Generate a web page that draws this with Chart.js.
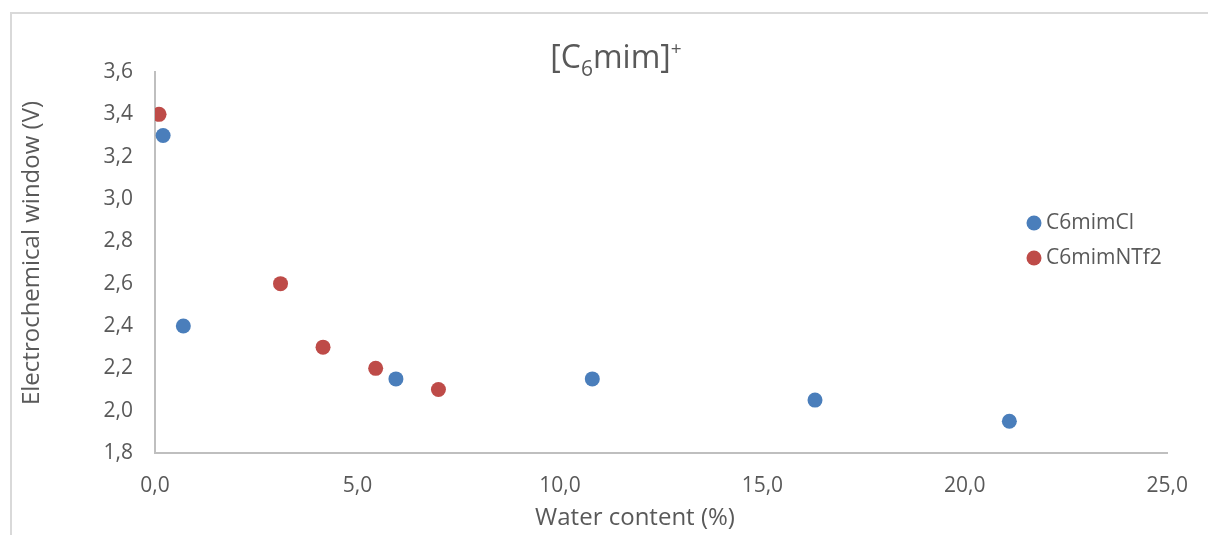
<!DOCTYPE html>
<html>
<head>
<meta charset="utf-8">
<script src="https://cdn.jsdelivr.net/npm/chart.js@4/dist/chart.umd.min.js"></script>
<style>
  html, body { margin: 0; padding: 0; background: #fff; }
  #wrap { position: relative; width: 1208px; height: 535px; overflow: hidden; }
  #frame { position: absolute; left: 10px; top: 12px; width: 1300px; height: 600px;
           border-top: 2px solid #d9d9d9; border-left: 2px solid #d9d9d9; box-sizing: border-box; }
  canvas { position: absolute; left: 0; top: 0; }
</style>
</head>
<body>
<div id="wrap">
  <div id="frame"></div>
  <canvas id="chart" width="1208" height="535"></canvas>
</div>
<script>
// Water content (%) vs electrochemical window (V)
const clWater   = [0.2, 0.7, 5.95, 10.8, 16.3, 21.1];
const clWindow  = [3.3, 2.4, 2.15, 2.15, 2.05, 1.95];
const ntfWater  = [0.1, 3.1, 4.15, 5.45, 7.0];
const ntfWindow = [3.4, 2.6, 2.3, 2.2, 2.1];

const seriesNames = ['C6mimCl', 'C6mimNTf2'];
const xTickValues = [0, 5, 10, 15, 20, 25];
const yTickValues = [1.8, 2.0, 2.2, 2.4, 2.6, 2.8, 3.0, 3.2, 3.4, 3.6];
const xAxisTitle = 'Water content (%)';
const yAxisTitle = 'Electrochemical window (V)';

const BLUE = '#4a7ebb';
const RED = '#be4b48';
const TEXT = '#595959';
const FONT = '"Open Sans", "DejaVu Sans", sans-serif';

const fmt = v => Number(v).toFixed(1).replace('.', ',');
const toPoints = (xs, ys) => xs.map((x, i) => ({ x, y: ys[i] }));

// Title with subscript 6 and superscript +
const titlePlugin = {
  id: 'richTitle',
  afterDraw(chart) {
    const ctx = chart.ctx;
    const parts = [
      { t: '[C', size: 32, dy: 0 },
      { t: '6', size: 21, dy: 8 },
      { t: 'mim]', size: 32, dy: 0 },
      { t: '+', size: 19, dy: -13 }
    ];
    ctx.save();
    ctx.fillStyle = TEXT;
    ctx.textBaseline = 'alphabetic';
    let total = 0;
    parts.forEach(p => { ctx.font = p.size + 'px ' + FONT; p.w = ctx.measureText(p.t).width; total += p.w; });
    let x = 616 - total / 2;
    const base = 68;
    parts.forEach(p => {
      ctx.font = p.size + 'px ' + FONT;
      ctx.textAlign = 'left';
      ctx.fillText(p.t, x, base + p.dy);
      x += p.w;
    });
    ctx.restore();
  }
};

// Axis titles
const axisTitlePlugin = {
  id: 'axisTitles',
  afterDraw(chart) {
    const ctx = chart.ctx;
    ctx.save();
    ctx.fillStyle = TEXT;
    ctx.font = '24px ' + FONT;
    ctx.textAlign = 'center';
    ctx.textBaseline = 'middle';
    ctx.fillText(xAxisTitle, 635, 518);
    ctx.translate(32, 253);
    ctx.rotate(-Math.PI / 2);
    ctx.fillText(yAxisTitle, 0, 0);
    ctx.restore();
  }
};

// Legend drawn inside the plot area on the right
const legendPlugin = {
  id: 'sideLegend',
  afterDraw(chart) {
    const ctx = chart.ctx;
    ctx.save();
    ctx.font = '21px ' + FONT;
    ctx.textBaseline = 'middle';
    ctx.textAlign = 'left';
    chart.data.datasets.forEach((ds, i) => {
      const y = 223 + i * 35;
      ctx.beginPath();
      ctx.arc(1034, y, 7.5, 0, Math.PI * 2);
      ctx.fillStyle = ds.backgroundColor;
      ctx.fill();
      ctx.fillStyle = TEXT;
      ctx.fillText(ds.label, 1046, y);
    });
    ctx.restore();
  }
};

new Chart(document.getElementById('chart'), {
  type: 'scatter',
  data: {
    datasets: [
      { label: seriesNames[0], data: toPoints(clWater, clWindow),
        backgroundColor: BLUE, borderColor: BLUE, borderWidth: 0, pointRadius: 7.5, pointHoverRadius: 7.5 },
      { label: seriesNames[1], data: toPoints(ntfWater, ntfWindow),
        backgroundColor: RED, borderColor: RED, borderWidth: 0, pointRadius: 7.5, pointHoverRadius: 7.5 }
    ]
  },
  options: {
    responsive: false,
    animation: false,
    layout: { padding: { left: 0, right: 40, top: 72, bottom: 0 } },
    plugins: { legend: { display: false }, title: { display: false }, tooltip: { enabled: false } },
    scales: {
      x: {
        type: 'linear', min: 0, max: 25,
        afterBuildTicks: s => { s.ticks = xTickValues.map(v => ({ value: v })); },
        afterFit: s => { s.height = 82; },
        grid: { display: false, drawTicks: false },
        border: { display: true, color: '#bfbfbf', width: 2 },
        ticks: { color: TEXT, font: { family: FONT, size: 21 }, padding: 20, callback: v => fmt(v), maxRotation: 0 }
      },
      y: {
        type: 'linear', min: 1.8, max: 3.6,
        afterBuildTicks: s => { s.ticks = yTickValues.map(v => ({ value: v })); },
        afterFit: s => { s.width = 155; },
        grid: { display: false, drawTicks: false },
        border: { display: true, color: '#bfbfbf', width: 2 },
        ticks: { color: TEXT, font: { family: FONT, size: 21 }, padding: 22, callback: v => fmt(v) }
      }
    }
  },
  plugins: [titlePlugin, axisTitlePlugin, legendPlugin]
});
</script>
</body>
</html>
